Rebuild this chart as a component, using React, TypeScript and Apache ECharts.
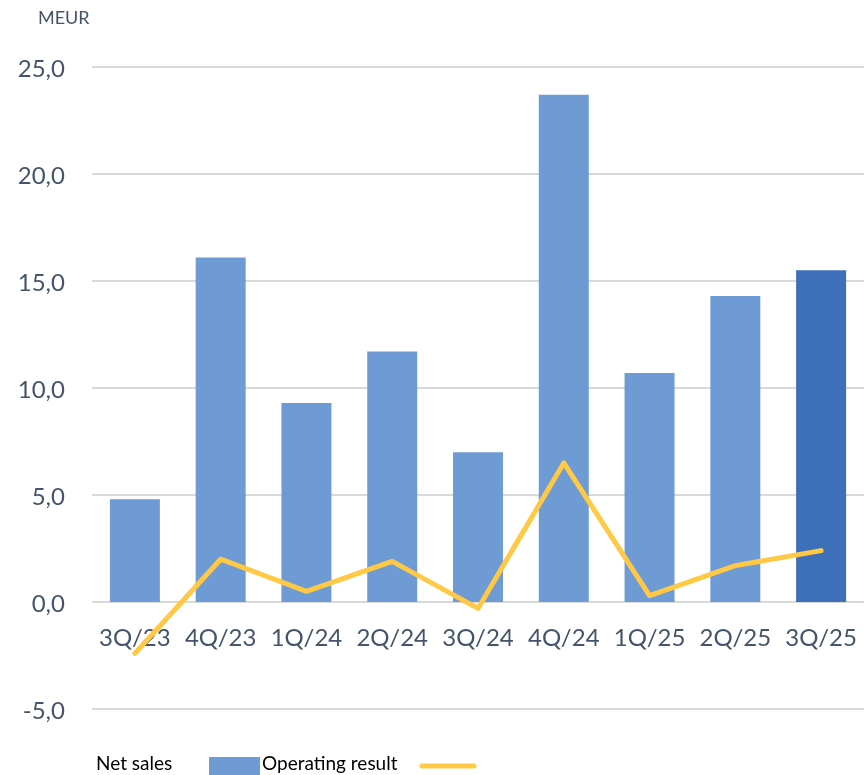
import React, { useEffect, useRef } from "react";
import * as echarts from "echarts";

const categories = ["3Q/23", "4Q/23", "1Q/24", "2Q/24", "3Q/24", "4Q/24", "1Q/25", "2Q/25", "3Q/25"];
const netSales = [4.8, 16.1, 9.3, 11.7, 7.0, 23.7, 10.7, 14.3, 15.5];
const operatingResult = [-2.4, 2.0, 0.5, 1.9, -0.3, 6.5, 0.3, 1.7, 2.4];
const legendNames = ["Net sales", "Operating result"];

const FONT = "Lato, 'Open Sans', sans-serif";
const BAR = "#6f9bd5";
const BAR_LAST = "#3d70b9";
const LINE = "#ffc845";
const TEXT = "#44546a";

export default function App() {
  const ref = useRef<HTMLDivElement>(null);
  useEffect(() => {
    if (!ref.current) return;
    const chart = echarts.init(ref.current, null, { renderer: "svg" });
    chart.setOption({
      animation: false,
      textStyle: { fontFamily: FONT },
      grid: { left: 92, right: 0, top: 67, bottom: 66, containLabel: false },
      xAxis: {
        type: "category",
        data: categories,
        axisLine: { show: false },
        axisTick: { show: false },
        axisLabel: { color: TEXT, fontSize: 24, fontFamily: FONT, margin: -85, interval: 0 },
      },
      yAxis: {
        type: "value",
        min: -5,
        max: 25,
        interval: 5,
        axisLine: { show: false },
        axisTick: { show: false },
        splitLine: { lineStyle: { color: "#d9d9d9", width: 2 } },
        axisLabel: {
          color: TEXT,
          fontSize: 24,
          fontFamily: FONT,
          margin: 27,
          formatter: (v: number) => v.toFixed(1).replace(".", ","),
        },
      },
      series: [
        {
          name: legendNames[0],
          type: "bar",
          barWidth: 50,
          data: netSales.map((v, i) => ({
            value: v,
            itemStyle: { color: i === netSales.length - 1 ? BAR_LAST : BAR },
          })),
        },
        {
          name: legendNames[1],
          type: "line",
          data: operatingResult,
          symbol: "none",
          lineStyle: { color: LINE, width: 5, cap: "round", join: "round" },
          z: 3,
        },
      ],
      graphic: [
        { type: "text", left: 38, top: 8, style: { text: "MEUR", fill: TEXT, font: `18px ${FONT}` } },
        { type: "text", left: 96, top: 753, style: { text: legendNames[0], fill: "#000", font: `19px ${FONT}` } },
        { type: "rect", shape: { x: 209, y: 757, width: 51, height: 20 }, style: { fill: BAR } },
        { type: "text", left: 262, top: 753, style: { text: legendNames[1], fill: "#000", font: `19px ${FONT}` } },
        {
          type: "line",
          shape: { x1: 422, y1: 766, x2: 474, y2: 766 },
          style: { stroke: LINE, lineWidth: 5, lineCap: "round" },
        },
      ],
    });
    return () => chart.dispose();
  }, []);
  return <div ref={ref} style={{ position: "fixed", left: 0, top: 0, width: 864, height: 775 }} />;
}
